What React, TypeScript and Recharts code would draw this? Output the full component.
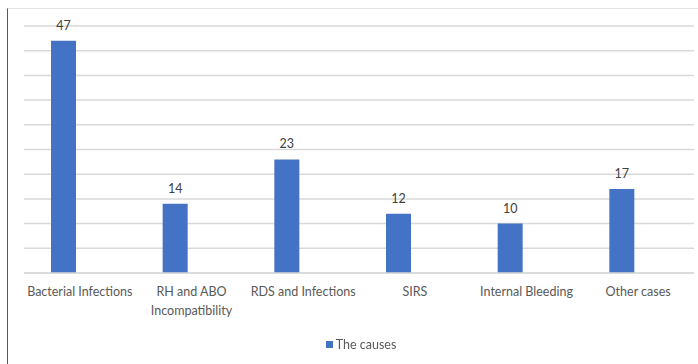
import React from "react";
import {
  BarChart,
  Bar,
  XAxis,
  YAxis,
  CartesianGrid,
  LabelList,
  Legend,
} from "recharts";

// Causes and their counts
const causes = [
  "Bacterial Infections",
  "RH and ABO Incompatibility",
  "RDS and Infections",
  "SIRS",
  "Internal Bleeding",
  "Other cases",
];
const counts = [47, 14, 23, 12, 10, 17];
const yTicks = [0, 5, 10, 15, 20, 25, 30, 35, 40, 45, 50];
const seriesName = "The causes";

const data = causes.map((cause, i) => ({
  cause,
  count: counts[i],
  spare: null as number | null,
}));

const FONT = "Lato, 'Liberation Sans', Arial, sans-serif";
const BLUE = "#4472c4";
const GRID = "#d9d9d9";
const MAX_CHARS = 20;

// greedy word wrap by character count
const wrapLabel = (label: string): string[] => {
  const lines: string[] = [];
  let current = "";
  label.split(" ").forEach((word) => {
    const next = current ? current + " " + word : word;
    if (next.length > MAX_CHARS && current) {
      lines.push(current);
      current = word;
    } else {
      current = next;
    }
  });
  if (current) lines.push(current);
  return lines;
};

const CategoryTick = (props: any) => {
  const { x, y, payload } = props;
  const lines = wrapLabel(String(payload.value));
  return (
    <text
      x={x}
      y={y + 15}
      textAnchor="middle"
      fill="#595959"
      style={{ fontFamily: FONT, fontSize: 12.5 }}
    >
      {lines.map((line, i) => (
        <tspan key={i} x={x} dy={i === 0 ? 0 : 19}>
          {line}
        </tspan>
      ))}
    </text>
  );
};

const LegendContent = (props: any) => {
  const items = (props.payload || []).filter((p: any) => p.type !== "none");
  return (
    <div
      style={{
        display: "flex",
        justifyContent: "center",
        alignItems: "center",
        fontFamily: FONT,
        fontSize: 12.5,
        color: "#595959",
      }}
    >
      {items.map((item: any) => (
        <div key={item.value} style={{ display: "flex", alignItems: "center" }}>
          <span
            style={{
              display: "inline-block",
              width: 7,
              height: 7,
              background: BLUE,
              marginRight: 3,
            }}
          />
          <span>{item.value}</span>
        </div>
      ))}
    </div>
  );
};

export default function App() {
  return (
    <div
      style={{
        position: "fixed",
        left: 0,
        top: 0,
        width: 698,
        height: 364,
        background: "#ffffff",
      }}
    >
      {/* outer frame lines */}
      <div
        style={{
          position: "absolute",
          left: 7,
          top: 8,
          width: 691,
          height: 356,
          borderLeft: "1.5px solid #595959",
          borderTop: "1px solid #e3e3e3",
          boxSizing: "border-box",
        }}
      />
      <div style={{ position: "absolute", left: 0, top: 0 }}>
        <BarChart
          width={698}
          height={364}
          data={data}
          margin={{ top: 26, right: 4, bottom: 51, left: 24 }}
          barSize={25}
          barGap={7}
        >
          <CartesianGrid
            vertical={false}
            stroke={GRID}
            strokeWidth={1.5}
          />
          <YAxis hide domain={[0, 50]} ticks={yTicks} />
          <XAxis
            dataKey="cause"
            interval={0}
            height={40}
            tickLine={false}
            axisLine={{ stroke: GRID, strokeWidth: 1.5 }}
            tick={<CategoryTick />}
          />
          <Bar
            dataKey="count"
            name={seriesName}
            fill={BLUE}
            isAnimationActive={false}
          >
            <LabelList
              dataKey="count"
              position="top"
              offset={11}
              fill="#404040"
              style={{ fontFamily: FONT, fontSize: 12.5 }}
            />
          </Bar>
          <Bar
            dataKey="spare"
            legendType="none"
            fill={BLUE}
            isAnimationActive={false}
          />
          <Legend
            layout="horizontal"
            verticalAlign="middle"
            align="center"
            wrapperStyle={{ top: 337, left: 12, width: 698 }}
            content={<LegendContent />}
          />
        </BarChart>
      </div>
    </div>
  );
}
